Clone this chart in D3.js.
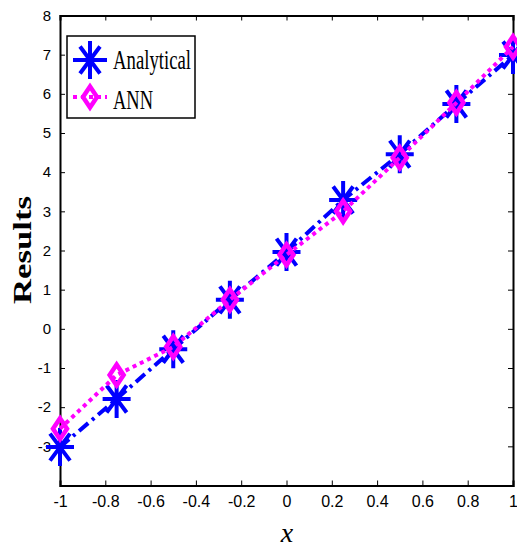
<!DOCTYPE html>
<html>
<head>
<meta charset="utf-8">
<script src="https://cdn.jsdelivr.net/npm/d3@7"></script>
<style>
  html, body { margin: 0; padding: 0; background: #fff; }
  svg { display: block; }
</style>
</head>
<body>
<div id="chart"></div>
<script>
const xValues = [-1, -0.75, -0.5, -0.25, 0, 0.25, 0.5, 0.75, 1];
const analytical = [-3.02, -1.79, -0.52, 0.74, 1.96, 3.29, 4.46, 5.74, 6.99];
const ann = [-2.55, -1.18, -0.46, 0.74, 1.89, 3.0, 4.37, 5.77, 7.2];
const xTicks = [-1, -0.8, -0.6, -0.4, -0.2, 0, 0.2, 0.4, 0.6, 0.8, 1];
const xTickLabels = ["-1", "-0.8", "-0.6", "-0.4", "-0.2", "0", "0.2", "0.4", "0.6", "0.8", "1"];
const yTicks = [-4, -3, -2, -1, 0, 1, 2, 3, 4, 5, 6, 7, 8];
const yTickLabels = ["", "-3", "-2", "-1", "0", "1", "2", "3", "4", "5", "6", "7", "8"];
const seriesNames = ["Analytical", "ANN"];

const W = 517, H = 548;
const L = 60, R = 513, T = 15.5, B = 485.5;

const svg = d3.select("#chart").append("svg").attr("width", W).attr("height", H);

const x = d3.scaleLinear().domain([-1, 1]).range([L, R]);
const y = d3.scaleLinear().domain([-4, 8]).range([B, T]);

const tickFont = "'Liberation Sans Narrow', 'Arial Narrow', 'Liberation Sans', sans-serif";
const serif = "'Liberation Serif', 'Times New Roman', serif";

const axB = d3.axisBottom(x).tickValues(xTicks).tickSize(-5).tickPadding(10)
  .tickFormat((d, i) => xTickLabels[i]);
const axT = d3.axisTop(x).tickValues(xTicks).tickSize(-5).tickFormat("");
const axL = d3.axisLeft(y).tickValues(yTicks).tickSize(-5).tickPadding(9)
  .tickFormat((d, i) => yTickLabels[i]);
const axR = d3.axisRight(y).tickValues(yTicks).tickSize(-5).tickFormat("");

function style(g) {
  g.selectAll("path.domain").attr("stroke", "#000").attr("stroke-width", 2);
  g.selectAll(".tick line").attr("stroke", "#000").attr("stroke-width", 1);
}
svg.append("g").attr("transform", `translate(0,${B})`).call(axB).call(style)
  .selectAll("text").attr("font-family", tickFont).attr("font-size", 16).attr("fill", "#000");
svg.append("g").attr("transform", `translate(0,${T})`).call(axT).call(style);
svg.append("g").attr("transform", `translate(${L},0)`).call(axL).call(style)
  .selectAll("text").attr("font-family", tickFont).attr("font-size", 15).attr("fill", "#000");
svg.append("g").attr("transform", `translate(${R},0)`).call(axR).call(style);

const line = d3.line().x((d, i) => x(xValues[i])).y(d => y(d));

function starPath(s) {
  const hx = 14 * s, hy = 19 * s, dx = 10 * s, dy = 13.5 * s;
  return `M${-hx},0L${hx},0M0,${-hy}L0,${hy}M${-dx},${-dy}L${dx},${dy}M${-dx},${dy}L${dx},${-dy}`;
}
function diamondPath(s) {
  const hx = 7 * s, hy = 10.5 * s;
  return `M0,${-hy}L${hx},0L0,${hy}L${-hx},0Z`;
}

const blue = "#0000ff", magenta = "#ff00ff";
const dashDot = "12,5,3,5";
const dotted = "4,4";

svg.append("path").datum(analytical).attr("d", line)
  .attr("fill", "none").attr("stroke", blue).attr("stroke-width", 4)
  .attr("stroke-dasharray", dashDot);
svg.append("g").selectAll("path").data(analytical).join("path")
  .attr("transform", (d, i) => `translate(${x(xValues[i])},${y(d)})`)
  .attr("d", starPath(1)).attr("stroke", blue).attr("stroke-width", 4).attr("fill", "none");

svg.append("path").datum(ann).attr("d", line)
  .attr("fill", "none").attr("stroke", magenta).attr("stroke-width", 4)
  .attr("stroke-dasharray", dotted);
svg.append("g").selectAll("path").data(ann).join("path")
  .attr("transform", (d, i) => `translate(${x(xValues[i])},${y(d)})`)
  .attr("d", diamondPath(1)).attr("stroke", magenta).attr("stroke-width", 4.5).attr("fill", "none");

const lg = svg.append("g");
lg.append("rect").attr("x", 67).attr("y", 36).attr("width", 128).attr("height", 82)
  .attr("fill", "#fff").attr("stroke", "#000").attr("stroke-width", 1.5);
lg.append("line").attr("x1", 73).attr("x2", 107).attr("y1", 60).attr("y2", 60)
  .attr("stroke", blue).attr("stroke-width", 4).attr("stroke-dasharray", dashDot);
lg.append("path").attr("transform", "translate(90,60)").attr("d", starPath(1))
  .attr("stroke", blue).attr("stroke-width", 4).attr("fill", "none");
lg.append("text").attr("x", 113).attr("y", 69).text(seriesNames[0])
  .attr("font-family", serif).attr("font-size", 27).attr("textLength", 78)
  .attr("lengthAdjust", "spacingAndGlyphs").attr("fill", "#000");
lg.append("line").attr("x1", 73).attr("x2", 107).attr("y1", 97).attr("y2", 97)
  .attr("stroke", magenta).attr("stroke-width", 4).attr("stroke-dasharray", dotted);
lg.append("path").attr("transform", "translate(90,97)").attr("d", diamondPath(1))
  .attr("stroke", magenta).attr("stroke-width", 4.5).attr("fill", "none");
lg.append("text").attr("x", 113).attr("y", 109).text(seriesNames[1])
  .attr("font-family", serif).attr("font-size", 27).attr("textLength", 40)
  .attr("lengthAdjust", "spacingAndGlyphs").attr("fill", "#000");

svg.append("text").attr("transform", "translate(31,250) rotate(-90)")
  .attr("text-anchor", "middle").attr("font-family", serif).attr("font-weight", "bold")
  .attr("font-size", 26).attr("textLength", 108).attr("lengthAdjust", "spacingAndGlyphs")
  .attr("fill", "#000").text("Results");
svg.append("text").attr("x", 287).attr("y", 542).attr("text-anchor", "middle")
  .attr("font-family", serif).attr("font-style", "italic").attr("font-size", 28)
  .attr("fill", "#000").text("x");
</script>
</body>
</html>
